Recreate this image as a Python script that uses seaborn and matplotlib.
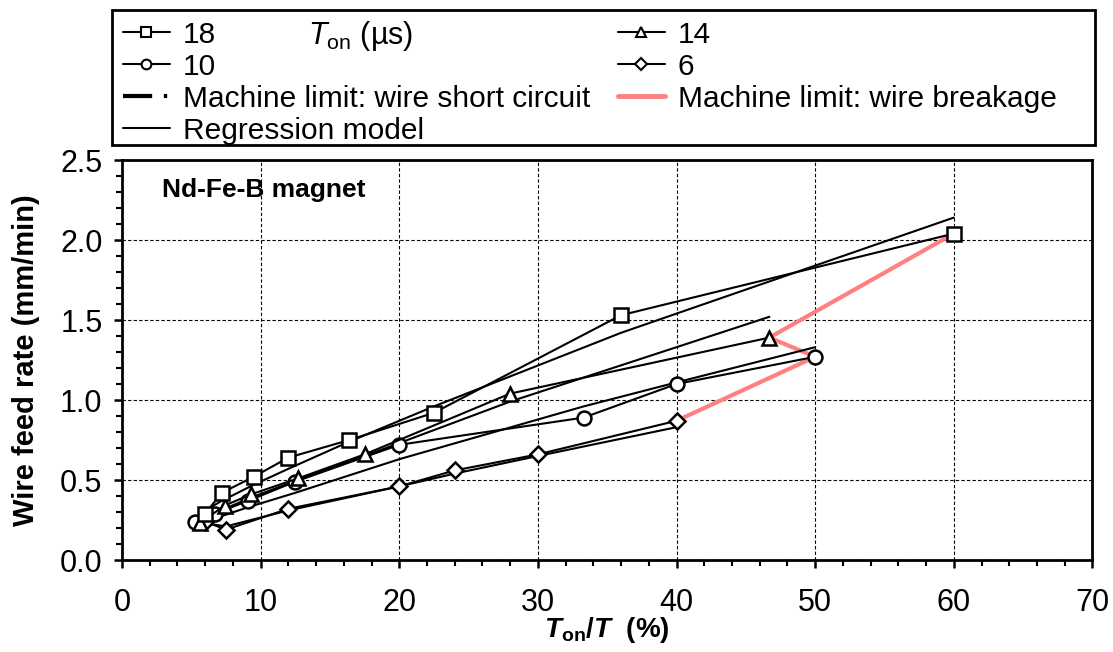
import matplotlib
matplotlib.use("Agg")
import matplotlib.pyplot as plt
import seaborn as sns
from matplotlib.lines import Line2D
from matplotlib.patches import Rectangle
from matplotlib.ticker import MultipleLocator, FormatStrFormatter

# T_on = 18 us (squares)
x18 = [6.0, 7.2, 9.5, 12.0, 16.4, 22.5, 36.0, 60.0]
y18 = [0.29, 0.42, 0.52, 0.64, 0.75, 0.92, 1.53, 2.04]
reg18 = [0.31, 0.37, 0.47, 0.57, 0.74, 0.96, 1.42, 2.14]

# T_on = 14 us (triangles)
x14 = [5.6, 7.4, 9.3, 12.7, 17.5, 28.0, 46.7]
y14 = [0.23, 0.34, 0.41, 0.51, 0.66, 1.04, 1.39]
reg14 = [0.26, 0.32, 0.39, 0.50, 0.65, 0.99, 1.52]

# T_on = 10 us (circles)
x10 = [5.3, 6.7, 9.1, 12.5, 20.0, 33.3, 40.0, 50.0]
y10 = [0.24, 0.29, 0.37, 0.49, 0.72, 0.89, 1.10, 1.27]
reg10 = [0.22, 0.26, 0.33, 0.42, 0.63, 0.96, 1.11, 1.33]

# T_on = 6 us (diamonds)
x6 = [6.0, 7.5, 12.0, 20.0, 24.0, 30.0, 40.0]
y6 = [0.24, 0.19, 0.32, 0.46, 0.56, 0.66, 0.87]
reg6 = [0.23, 0.21, 0.31, 0.46, 0.54, 0.65, 0.83]

# machine limit: wire breakage (last point of each series)
brk_x = [40.0, 50.0, 46.7, 60.0]
brk_y = [0.87, 1.27, 1.39, 2.04]

sns.set_style("ticks")
plt.rcParams['font.family'] = ['Liberation Sans', 'DejaVu Sans']
plt.rcParams['text.color'] = 'black'
plt.rcParams['axes.labelcolor'] = 'black'
plt.rcParams['mathtext.fontset'] = 'custom'
plt.rcParams['mathtext.rm'] = 'Liberation Sans'
plt.rcParams['mathtext.it'] = 'Liberation Sans:italic'
plt.rcParams['mathtext.bf'] = 'Liberation Sans:bold'
plt.rcParams['mathtext.bfit'] = 'Liberation Sans:italic:bold'

fig = plt.figure(figsize=(11.13, 6.52), dpi=100)
ax = fig.add_axes([0.1096, 0.1411, 0.8719, 0.6135])

salmon = '#FF8080'
sns.lineplot(x=brk_x, y=brk_y, sort=False, color=salmon, linewidth=3, ax=ax, zorder=2)

for xs, rs in [(x18, reg18), (x14, reg14), (x10, reg10), (x6, reg6)]:
    sns.lineplot(x=xs, y=rs, sort=False, color='black', linewidth=1.5, ax=ax, zorder=3)

series = [(x6, y6, 'D', 8), (x10, y10, 'o', 10), (x14, y14, '^', 10), (x18, y18, 's', 10)]
for xs, ys, m, ms in series:
    sns.lineplot(x=xs, y=ys, sort=False, color='black', linewidth=1.5, marker=m,
                 markersize=ms, markerfacecolor='white', markeredgecolor='black',
                 markeredgewidth=1.8, ax=ax, zorder=4)

ax.set_xlim(0, 70)
ax.set_ylim(0, 2.5)
ax.xaxis.set_major_locator(MultipleLocator(10))
ax.xaxis.set_minor_locator(MultipleLocator(2))
ax.yaxis.set_major_locator(MultipleLocator(0.5))
ax.yaxis.set_minor_locator(MultipleLocator(0.1))
ax.yaxis.set_major_formatter(FormatStrFormatter('%.1f'))
ax.grid(True, which='major', color='black', linestyle=(0, (3, 2)), linewidth=0.8)
ax.tick_params(which='major', direction='out', length=6, width=1.8, labelsize=22, colors='black')
ax.tick_params(which='minor', direction='out', length=4, width=1.5, colors='black')
ax.tick_params(axis='x', which='major', pad=14)
ax.tick_params(axis='y', which='major', pad=8)
for s in ax.spines.values():
    s.set_linewidth(2)
    s.set_color('black')

ax.set_xlabel(r"$\mathbfit{T}_{\mathbf{on}}$/$\mathbfit{T}$  (%)", fontsize=20,
              fontweight='bold', labelpad=-2)
ax.set_ylabel("Wire feed rate (mm/min)", fontsize=21, fontweight='bold', labelpad=14)

ax.text(0.041, 0.925, "Nd-Fe-B magnet", transform=ax.transAxes, fontsize=19,
        fontweight='bold', ha='left', va='center')

# legend
mk = dict(color='black', linewidth=1.5, markerfacecolor='white', markeredgecolor='black',
          markeredgewidth=1.5)
handles = [
    Line2D([], [], marker='s', markersize=7, **mk),
    Line2D([], [], marker='o', markersize=7, **mk),
    Line2D([], [], color='black', linewidth=3, linestyle=(0, (7, 2.8, 0.8, 3))),
    Line2D([], [], color='black', linewidth=1.5),
    Line2D([], [], marker='^', markersize=7, **mk),
    Line2D([], [], marker='D', markersize=6, **mk),
    Line2D([], [], color=salmon, linewidth=3.5),
]
labels = ['18', '10', 'Machine limit: wire short circuit', 'Regression model',
          '14', '6', 'Machine limit: wire breakage']
fig.legend(handles, labels, ncol=2, loc='upper left', bbox_to_anchor=(0.1105, 0.968),
           frameon=False, fontsize=21.5, handlelength=1.57, handletextpad=0.43,
           columnspacing=0.94, labelspacing=0.13, borderpad=0, borderaxespad=0)
fig.patches.append(Rectangle((0.1006, 0.7776), 0.8832, 0.207, transform=fig.transFigure,
                             fill=False, edgecolor='black', linewidth=2))
fig.text(0.2767, 0.9325, r"$T$$_{\mathrm{on}}$ (µs)", fontsize=22, va='baseline', ha='left')

fig.savefig("out.png", dpi=100)
